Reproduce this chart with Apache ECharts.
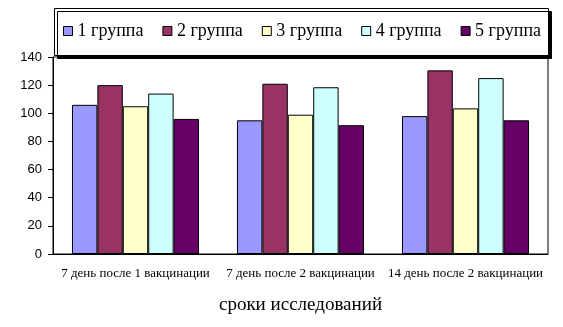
<!DOCTYPE html>
<html>
<head>
<meta charset="utf-8">
<script src="https://cdn.jsdelivr.net/npm/echarts@6/dist/echarts.min.js"></script>
<style>
  html, body { margin: 0; padding: 0; background: #fff; }
  #chart { width: 563px; height: 327px; }
</style>
</head>
<body>
<div id="chart"></div>
<script>
// сроки исследований
const categories = ['7 день после 1 вакцинации', '7 день после 2 вакцинации', '14 день после 2 вакцинации'];
const groupNames = ['1 группа', '2 группа', '3 группа', '4 группа', '5 группа'];
const group1 = [106, 95, 98];
const group2 = [120, 121, 130.5];
const group3 = [105, 99, 103.5];
const group4 = [114, 118.5, 125];
const group5 = [96, 91.5, 95];
const yTicks = [0, 20, 40, 60, 80, 100, 120, 140];

const colors = ['#9999FF', '#993366', '#FFFFCC', '#CCFFFF', '#660066'];
const serif = '"Liberation Serif", "Times New Roman", serif';
const sans = '"Liberation Sans", Arial, sans-serif';

const chart = echarts.init(document.getElementById('chart'));

const option = {
  animation: false,
  color: colors,
  grid: {
    left: 53,
    right: 15,
    top: 57,
    bottom: 73,
    show: true,
    borderColor: '#000',
    borderWidth: 1
  },
  graphic: [
    {
      type: 'rect',
      z: 5,
      shape: { x: 54.5, y: 8.5, width: 494, height: 47 },
      style: {
        fill: '#fff',
        stroke: '#000',
        lineWidth: 1,
        shadowColor: '#000',
        shadowBlur: 0,
        shadowOffsetX: 3,
        shadowOffsetY: 3
      }
    }
  ],
  legend: {
    z: 10,
    left: 63,
    top: 22,
    padding: 0,
    itemWidth: 9,
    itemHeight: 9,
    itemGap: 19,
    icon: 'rect',
    itemStyle: { borderColor: '#000', borderWidth: 1 },
    textStyle: {
      fontFamily: serif,
      fontSize: 18,
      color: '#000'
    },
    data: groupNames
  },
  xAxis: {
    type: 'category',
    data: categories,
    axisLine: { lineStyle: { color: '#000', width: 1 } },
    axisTick: { show: false },
    axisLabel: {
      interval: 0,
      fontFamily: serif,
      fontSize: 13,
      color: '#000',
      margin: 13
    },
    name: 'сроки исследований',
    nameLocation: 'middle',
    nameGap: 42,
    nameTextStyle: {
      fontFamily: serif,
      fontSize: 19,
      color: '#000'
    }
  },
  yAxis: {
    type: 'value',
    min: yTicks[0],
    max: yTicks[yTicks.length - 1],
    interval: 20,
    splitLine: { show: false },
    axisLine: { show: true, lineStyle: { color: '#000', width: 1 } },
    axisTick: { show: true, inside: false, length: 5, lineStyle: { color: '#000' } },
    axisLabel: {
      fontFamily: sans,
      fontSize: 13,
      color: '#000',
      margin: 11
    }
  },
  series: [group1, group2, group3, group4, group5].map((vals, i) => ({
    name: groupNames[i],
    type: 'bar',
    data: vals,
    barGap: '0%',
    barCategoryGap: '23%',
    itemStyle: { borderColor: '#000', borderWidth: 1 }
  }))
};

chart.setOption(option);
</script>
</body>
</html>
